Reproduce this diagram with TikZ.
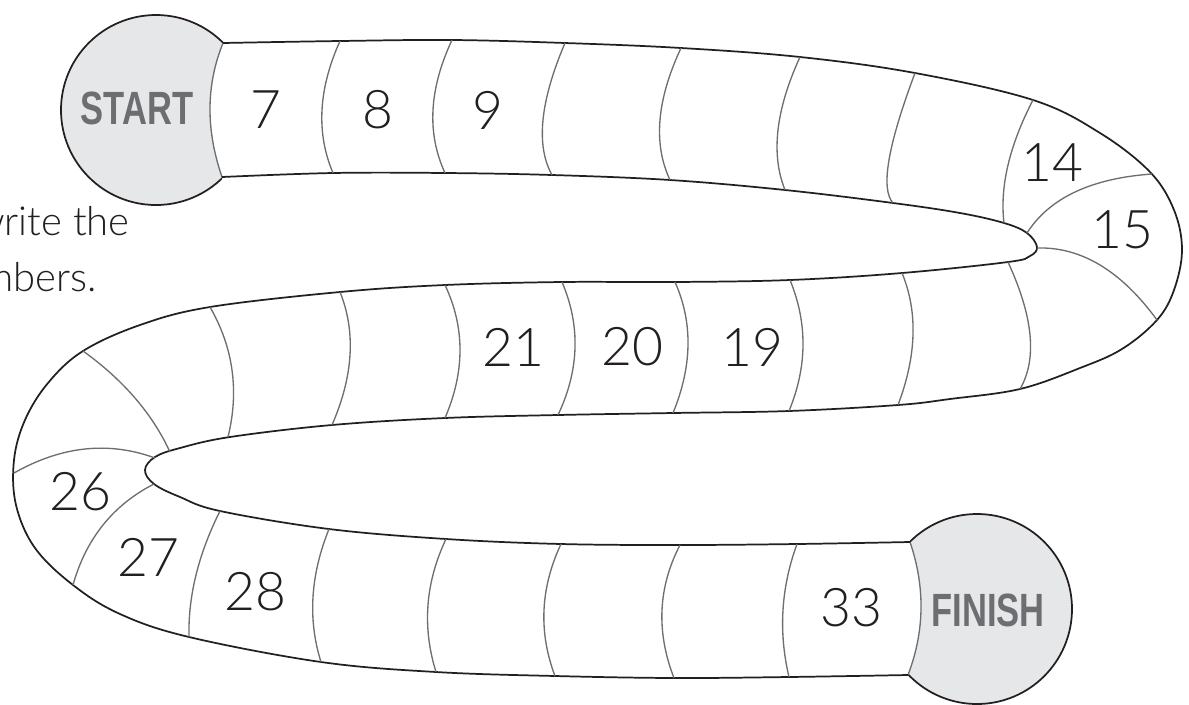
\documentclass[tikz,border=0pt]{standalone}
\usepackage{fontspec}
\IfFontExistsTF{Lato Light}{\setmainfont{Lato Light}}{\setmainfont{Lato}}
\newfontfamily\labfont{Liberation Sans}[FakeStretch=0.74]
\usetikzlibrary{calc}
\definecolor{ink}{HTML}{231F20}
\definecolor{circfill}{HTML}{E6E7E8}
\definecolor{labgray}{HTML}{6D6E71}
\definecolor{divgray}{HTML}{6D6E71}
\tikzset{
 edge/.style={line width=1.3pt, draw=ink},
 divline/.style={line width=1.0pt, draw=divgray},
 num/.style={font=\fontsize{40}{40}\selectfont, text=ink, inner sep=0pt},
 endlab/.style={font=\labfont\bfseries\fontsize{35}{35}\selectfont, text=labgray, inner sep=0pt},
 instr/.style={font=\fontsize{30}{30}\selectfont, text=ink, inner sep=0pt, anchor=base east},
}
\newcommand\dvd[3]{\draw[divline] (#1) .. controls ($4/3*(#2)-1/3*(#3)$) and ($4/3*(#2)-1/3*(#1)$) .. (#3);}
\begin{document}
\begin{tikzpicture}[x=0.75pt,y=-0.75pt]
\clip (0,0) rectangle (1189,704);
\fill[white] (0,0) rectangle (1189,704);
% START circle
\begin{scope}
\clip (223,43) -- (223,-100) -- (-100,-100) -- (-100,300) -- (222,300) -- (222,177) .. controls ($4/3*(210,108)-1/3*(223,43)$) and ($4/3*(210,108)-1/3*(222,177)$) .. (223,43) -- cycle;
\filldraw[fill=circfill, edge] (156,110) circle [radius=95];
\end{scope}
% FINISH circle
\begin{scope}
\clip (910,542) -- (910,400) -- (1300,400) -- (1300,800) -- (908,800) -- (908,675) .. controls ($4/3*(921,609)-1/3*(910,542)$) and ($4/3*(921,609)-1/3*(908,675)$) .. (910,542) -- cycle;
\filldraw[fill=circfill, edge] (977,609) circle [radius=95];
\end{scope}
% end arcs
\dvd{223,43}{210,108}{222,177}
\dvd{910,542}{921,609}{908,675}
% band edges
\draw[edge] plot[smooth, tension=0.6] coordinates {(223,43) (340,41) (452,40) (565,43) (681,48) (800,57) (915,73) (1033,100) (1100,133) (1150,172) (1174,210) (1182,250) (1174,290) (1157,320) (1122,349) (1080,368) (1020,389) (950,399) (898,405) (789,411) (673,413) (558,415) (445,418) (332,425) (230,437) (180,448) (155,457) (145,470) (154,484) (180,497) (220,511) (329,529) (446,539) (561,544) (680,545) (797,544) (910,542)};
\draw[edge] plot[smooth, tension=0.6] coordinates {(222,177) (333,173) (445,173) (552,175) (670,180) (785,190) (893,203) (960,213) (1004,223) (1027,233) (1037,247) (1030,256) (1008,262) (902,273) (790,280) (675,282) (562,282) (445,285) (340,292) (210,307) (140,325) (83,351) (48,383) (25,420) (14,460) (16,505) (35,548) (73,585) (120,614) (189,637) (321,662) (436,672) (555,676) (674,678) (789,677) (908,675)};
% top band dividers
\dvd{340,41}{322,110}{333,173}
\dvd{452,40}{433,110}{445,173}
\dvd{565,43}{543,120}{552,175}
\dvd{681,48}{660,120}{670,180}
\dvd{800,57}{778,130}{785,190}
\dvd{915,73}{889,160}{893,203}
\dvd{1033,100}{1008,165}{1004,223}
\dvd{1027,233}{1075,192}{1152,174}
\dvd{1037,248}{1100,265}{1157,320}
% middle band dividers
\dvd{1008,262}{1030,335}{1020,389}
\dvd{902,273}{913,335}{898,405}
\dvd{790,280}{803,345}{789,411}
\dvd{675,282}{688,345}{673,413}
\dvd{562,282}{575,348}{558,415}
\dvd{445,285}{460,350}{445,418}
\dvd{340,292}{350,355}{332,425}
\dvd{210,307}{232,370}{228,437}
\dvd{83,351}{135,398}{170,452}
\dvd{14,473}{85,449}{155,458}
\dvd{154,484}{103,525}{73,585}
% bottom band dividers
\dvd{220,511}{196,575}{189,637}
\dvd{329,529}{313,597}{321,662}
\dvd{446,539}{428,605}{436,672}
\dvd{561,544}{544,610}{555,676}
\dvd{680,545}{662,610}{674,678}
\dvd{797,544}{783,610}{789,677}
% labels
\node[endlab] (start) at (137,108) {START};
\node[endlab] (finish) at (988,610) {FINISH};
\node[num] (n7) at (266,110) {7};
\node[num] (n8) at (378,110) {8};
\node[num] (n9) at (488,110) {9};
\node[num] (n14) at (1052,163) {14};
\node[num] (n15) at (1122,230) {15};
\node[num] (n21) at (513,347) {21};
\node[num] (n20) at (632,347) {20};
\node[num] (n19) at (752,347) {19};
\node[num] (n26) at (80,492) {26};
\node[num] (n27) at (148,557) {27};
\node[num] (n28) at (255,592) {28};
\node[num] (n33) at (851,608) {33};
\node[instr] (l1) at (130,235) {write the};
\node[instr] (l2) at (97,291) {numbers.};
\end{tikzpicture}
\end{document}
